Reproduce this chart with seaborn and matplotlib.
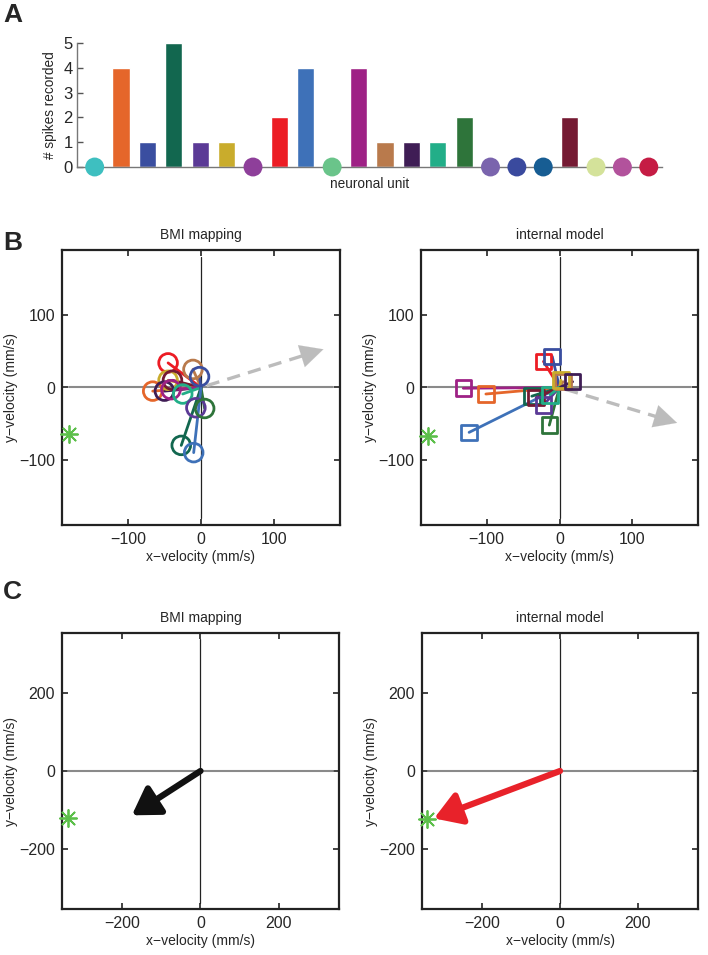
import numpy as np
import pandas as pd
import matplotlib
matplotlib.use("Agg")
import matplotlib.pyplot as plt
import seaborn as sns

# ---------------- data ----------------
unit_ids = list(range(1, 23))
spike_counts = [0, 4, 1, 5, 1, 1, 0, 2, 4, 0, 4, 1, 1, 1, 2, 0, 0, 0, 2, 0, 0, 0]
unit_colors = ["#3ebfc0", "#e5662a", "#3a4ea0", "#12674f", "#5b3a96", "#c9ac2c",
               "#8e3f9a", "#ec1c24", "#3e71b8", "#6ac48a", "#9e2185", "#b97a4c",
               "#3f1d55", "#22ae88", "#2e743a", "#7a64ad", "#3a4a9e", "#175d93",
               "#751a33", "#d4e29a", "#b2529c", "#c51c44"]

# BMI mapping contributions (unit index -> x, y)
bmi_units = [8, 12, 3, 6, 19, 2, 13, 11, 14, 5, 15, 4, 9]
bmi_x = [-45, -11, -2, -45, -39, -66, -50, -41, -25, -7, 5, -27, -10]
bmi_y = [34, 25, 15, 10, 10, -5, -5, -3, -9, -28, -29, -80, -90]

# internal model contributions
im_units = [9, 11, 2, 4, 19, 5, 14, 15, 8, 3, 12, 6, 13]
im_x = [-124, -132, -101, -38, -32, -22, -13, -14, -22, -10, 5, 2, 18]
im_y = [-62, -1, -9, -12, -14, -24, -10, -52, 36, 43, 8, 10, 8]

target_B_left = (-180, -64)
target_B_right = (-180, -67)
cursor_B_left = (171, 54)
cursor_B_right = (165, -50)

target_C_left = (-340, -120)
target_C_right = (-341, -123)
pred_C_left = (-176, -114)
pred_C_right = (-324, -122)

# ---------------- style ----------------
sns.set_theme(style="white")
plt.rcParams["font.family"] = ["Liberation Sans", "DejaVu Sans"]
plt.rcParams["font.size"] = 10
plt.rcParams["xtick.labelsize"] = 11.5
plt.rcParams["ytick.labelsize"] = 11.5
plt.rcParams["axes.labelsize"] = 10
plt.rcParams["axes.titlesize"] = 10
plt.rcParams["axes.unicode_minus"] = True

W, H = 708, 955
fig = plt.figure(figsize=(W / 100, H / 100), dpi=100)

def frac(l, t, r, b):
    return [l / W, 1 - b / H, (r - l) / W, (b - t) / H]

# ---------------- panel A ----------------
axA = fig.add_axes(frac(77, 43, 662, 167))
dfA = pd.DataFrame({"unit": [str(u) for u in unit_ids], "count": spike_counts})
sns.barplot(data=dfA, x="unit", y="count", hue="unit", palette=unit_colors,
            legend=False, width=0.65, ax=axA, saturation=1)
zero_idx = [i for i, c in enumerate(spike_counts) if c == 0]
sns.scatterplot(x=zero_idx, y=[0] * len(zero_idx), hue=[str(i) for i in zero_idx],
                palette=[unit_colors[i] for i in zero_idx], s=185, linewidth=0,
                legend=False, ax=axA, zorder=5)
for c in axA.collections:
    c.set_clip_on(False)
axA.set_xlim(-0.67, 21.5)
axA.set_ylim(0, 5)
axA.set_yticks(range(6))
axA.set_xticks([])
axA.set_xlabel("neuronal unit", labelpad=7, fontsize=9.8)
axA.set_ylabel("# spikes recorded", fontsize=9.8, labelpad=5)
for s in ["top", "right"]:
    axA.spines[s].set_visible(False)
for s in ["left", "bottom"]:
    axA.spines[s].set_color("#777777")
    axA.spines[s].set_linewidth(1.0)
axA.tick_params(axis="y", length=4, width=1, color="#555555", direction="in",
                left=True, pad=3, labelsize=12)

# ---------------- helper for velocity axes ----------------
def setup_vel(ax, lim, cross, ticks, title):
    ax.set_xlim(-lim, lim)
    ax.set_ylim(-lim, lim)
    ax.plot([-cross, cross], [0, 0], color="#8a8a8a", lw=1.5, zorder=1)
    ax.plot([0, 0], [-cross, cross], color="#222222", lw=0.9, zorder=1)
    ax.set_xticks(ticks)
    ax.set_yticks(ticks)
    ax.set_xticklabels([str(t).replace("-", "\u2212") for t in ticks])
    ax.set_yticklabels([str(t).replace("-", "\u2212") for t in ticks])
    ax.tick_params(direction="in", length=4, width=1.2, color="#222222",
                   top=True, right=True, bottom=True, left=True, pad=5)
    for s in ax.spines.values():
        s.set_color("#222222")
        s.set_linewidth(1.6)
    ax.set_xlabel("x\u2212velocity (mm/s)", labelpad=2)
    ax.set_ylabel("y\u2212velocity (mm/s)", labelpad=1)
    ax.set_title(title, pad=8)

def star(ax, pt):
    ax.scatter([pt[0]], [pt[1]], marker=(8, 2, 0), s=150, color="#5cbf4a",
               linewidths=1.3, zorder=6, clip_on=False)

def dashed_arrow(ax, tip):
    tip = np.array(tip, dtype=float)
    d = tip / np.linalg.norm(tip)
    end = tip - d * 16
    ax.plot([d[0] * 8, end[0]], [d[1] * 8, end[1]], color="#bcbcbc", lw=2.4,
            ls=(0, (4, 2.5)), zorder=2)
    ax.annotate("", xy=tip, xytext=tip - d * 18,
                arrowprops=dict(arrowstyle="-|>,head_length=1.1,head_width=0.55",
                                color="#bcbcbc", lw=0.1, mutation_scale=15))

def vectors(ax, units, xs, ys, marker, s):
    for u, x, y in zip(units, xs, ys):
        col = unit_colors[u - 1]
        ax.plot([0, x], [0, y], color=col, lw=2.0, zorder=3)
    dfv = pd.DataFrame({"x": xs, "y": ys, "u": [str(u) for u in units]})
    sns.scatterplot(data=dfv, x="x", y="y", hue="u",
                    palette=[unit_colors[u - 1] for u in units],
                    marker=marker, s=s, legend=False, ax=ax, zorder=4)
    coll = ax.collections[-1]
    fc = coll.get_facecolors()
    coll.set_edgecolors(fc)
    coll.set_facecolors("none")
    coll.set_linewidths(2.0)

# ---------------- panel B ----------------
axB1 = fig.add_axes(frac(62, 250, 340, 525))
setup_vel(axB1, 190, 180, [-100, 0, 100], "BMI mapping")
vectors(axB1, bmi_units, bmi_x, bmi_y, "o", 180)
dashed_arrow(axB1, cursor_B_left)
star(axB1, target_B_left)

axB2 = fig.add_axes(frac(421, 250, 698, 525))
setup_vel(axB2, 190, 180, [-100, 0, 100], "internal model")
vectors(axB2, im_units, im_x, im_y, "s", 125)
dashed_arrow(axB2, cursor_B_right)
star(axB2, target_B_right)

# ---------------- panel C ----------------
axC1 = fig.add_axes(frac(62, 633, 339, 909))
setup_vel(axC1, 355, 340, [-200, 0, 200], "BMI mapping")
axC1.annotate("", xy=pred_C_left, xytext=(0, 0),
              arrowprops=dict(arrowstyle="-|>,head_length=0.8,head_width=0.5",
                              color="#111111", lw=4.5, mutation_scale=20,
                              shrinkA=0, shrinkB=0))
star(axC1, target_C_left)

axC2 = fig.add_axes(frac(422, 633, 698, 909))
setup_vel(axC2, 355, 340, [-200, 0, 200], "internal model")
axC2.annotate("", xy=pred_C_right, xytext=(0, 0),
              arrowprops=dict(arrowstyle="-|>,head_length=0.8,head_width=0.5",
                              color="#e8222a", lw=4.5, mutation_scale=20,
                              shrinkA=0, shrinkB=0))
star(axC2, target_C_right)

# ---------------- panel letters ----------------
for letter, y in [("A", 15), ("B", 243), ("C", 592)]:
    fig.text(3 / W, 1 - y / H, letter, fontsize=19, fontweight="bold",
             va="center", ha="left")

fig.savefig("out.png", dpi=100)
